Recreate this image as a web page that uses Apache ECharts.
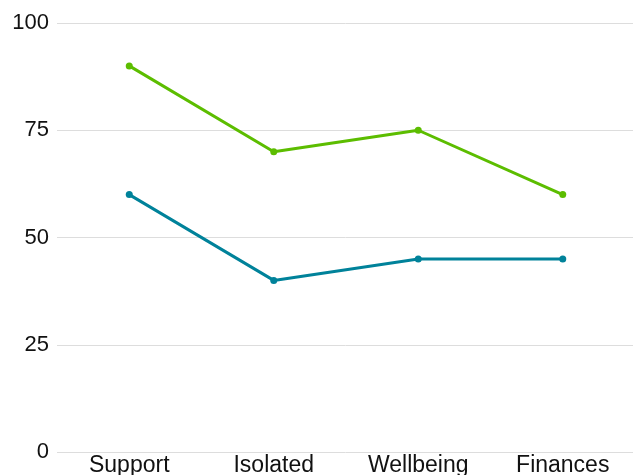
<!DOCTYPE html>
<html>
<head>
<meta charset="utf-8">
<script src="https://cdn.jsdelivr.net/npm/echarts@6/dist/echarts.min.js"></script>
<style>
  html, body { margin: 0; padding: 0; background: #fff; }
  #chart { width: 633px; height: 475px; }
</style>
</head>
<body>
<div id="chart"></div>
<script>
// data
const categories = ['Support', 'Isolated', 'Wellbeing', 'Finances'];
const greenValues = [90, 70, 75, 60];
const blueValues = [60, 40, 45, 45];

const chart = echarts.init(document.getElementById('chart'));

function lineSeries(data, color) {
  return {
    type: 'line',
    data: data,
    symbol: 'circle',
    symbolSize: 7,
    lineStyle: { color: color, width: 3 },
    itemStyle: { color: color },
    emphasis: { disabled: true }
  };
}

chart.setOption({
  animation: false,
  textStyle: { fontFamily: 'Liberation Sans, Arial, sans-serif' },
  grid: { left: 57, top: 23, width: 578, height: 429, containLabel: false, outerBoundsMode: 'none' },
  xAxis: {
    type: 'category',
    data: categories,
    boundaryGap: true,
    axisLine: { show: false },
    axisTick: { show: false },
    axisLabel: { color: '#111', fontSize: 23, margin: 2 }
  },
  yAxis: {
    type: 'value',
    min: 0,
    max: 100,
    interval: 25,
    axisLine: { show: false },
    axisTick: { show: false },
    axisLabel: { color: '#111', fontSize: 22, margin: 8 },
    splitLine: { lineStyle: { color: '#dddddd', width: 1 } }
  },
  series: [
    lineSeries(greenValues, '#5cbd00'),
    lineSeries(blueValues, '#00829a')
  ]
});
</script>
</body>
</html>
